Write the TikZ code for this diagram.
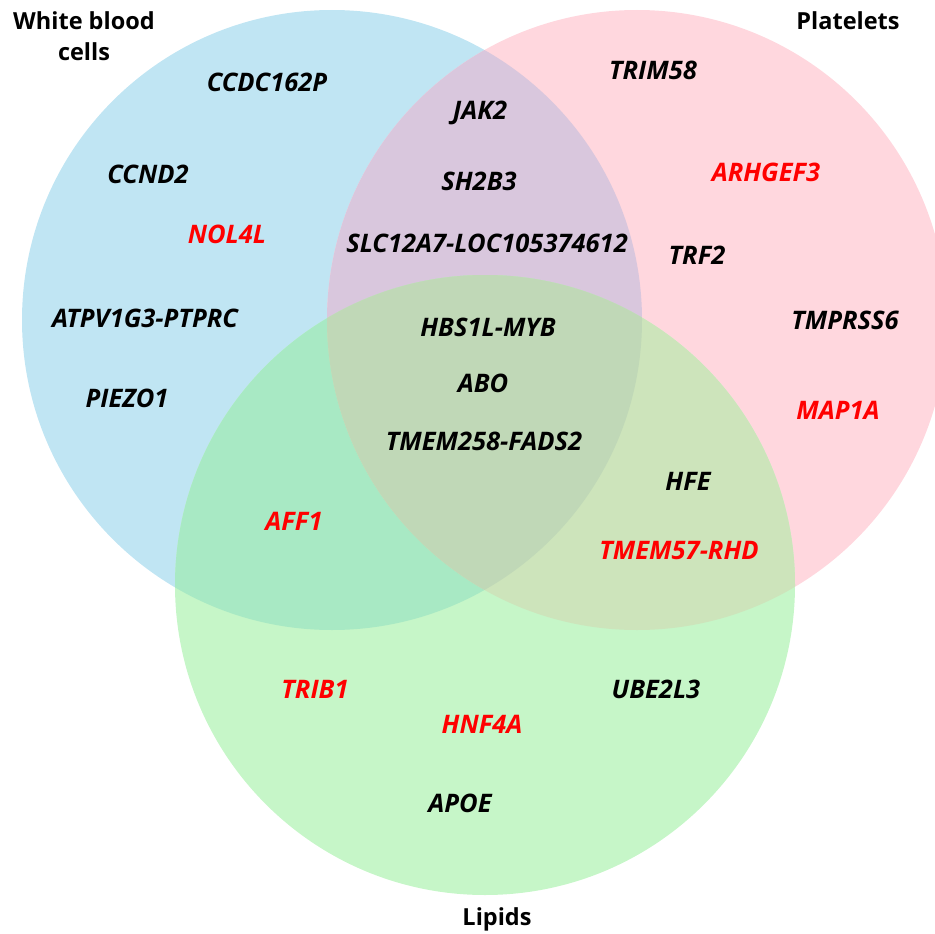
\documentclass[tikz,border=0pt]{standalone}
\usepackage{fontspec}
\setmainfont{Open Sans}
\definecolor{wbc}{RGB}{192,229,243}
\definecolor{plt}{RGB}{255,215,222}
\definecolor{lip}{RGB}{198,246,200}
\definecolor{wbcplt}{RGB}{217,199,221}
\definecolor{wbclip}{RGB}{168,233,196}
\definecolor{pltlip}{RGB}{205,228,187}
\definecolor{allthree}{RGB}{192,216,183}
\definecolor{hit}{RGB}{255,0,0}
\tikzset{
  gene/.style={font=\fontsize{25.5}{28}\selectfont\bfseries\itshape, text=black, inner sep=0pt},
  newgene/.style={gene, text=hit},
  setname/.style={font=\fontsize{23.5}{31}\selectfont\bfseries, align=center, inner sep=0pt},
}
\begin{document}
\begin{tikzpicture}[x=1pt,y=-1pt]
\useasboundingbox (0,0) rectangle (935,934);
\clip (0,0) rectangle (935,934);
\coordinate (cW) at (332,320);
\coordinate (cP) at (637,320);
\coordinate (cL) at (485,585);
\def\rr{310pt}
% single sets
\fill[wbc] (cW) circle[radius=\rr];
\fill[plt] (cP) circle[radius=\rr];
\fill[lip] (cL) circle[radius=\rr];
% pairwise overlaps
\begin{scope}
  \clip (cW) circle[radius=\rr];
  \fill[wbcplt] (cP) circle[radius=\rr];
  \fill[wbclip] (cL) circle[radius=\rr];
\end{scope}
\begin{scope}
  \clip (cP) circle[radius=\rr];
  \fill[pltlip] (cL) circle[radius=\rr];
\end{scope}
% triple overlap
\begin{scope}
  \clip (cW) circle[radius=\rr];
  \clip (cP) circle[radius=\rr];
  \fill[allthree] (cL) circle[radius=\rr];
\end{scope}
% set names
\node[setname] (tW) at (84,36) {White blood\\cells};
\node[setname] (tP) at (848,21) {Platelets};
\node[setname] (tL) at (497,919) {Lipids};
% white blood cells only
\node[gene] (g1) at (267,82) {CCDC162P};
\node[gene] (g2) at (148,174) {CCND2};
\node[newgene] (g3) at (227,234) {NOL4L};
\node[gene] (g4) at (145,318) {ATPV1G3-PTPRC};
\node[gene] (g5) at (127,398) {PIEZO1};
% white blood cells and platelets
\node[gene] (g6) at (480,113) {JAK2};
\node[gene] (g7) at (479,181) {SH2B3};
\node[gene] (g8) at (487,243) {SLC12A7-LOC105374612};
% platelets only
\node[gene] (g9) at (653,70) {TRIM58};
\node[newgene] (g10) at (766,172) {ARHGEF3};
\node[gene] (g11) at (697,255) {TRF2};
\node[gene] (g12) at (845,320) {TMPRSS6};
\node[newgene] (g13) at (838,410) {MAP1A};
% all three
\node[gene] (g14) at (488,327) {HBS1L-MYB};
\node[gene] (g15) at (483,383) {ABO};
\node[gene] (g16) at (484,441) {TMEM258-FADS2};
% platelets and lipids
\node[gene] (g17) at (688,481) {HFE};
\node[newgene] (g18) at (679,551) {TMEM57-RHD};
% white blood cells and lipids
\node[newgene] (g19) at (294,521) {AFF1};
% lipids only
\node[newgene] (g20) at (315,689) {TRIB1};
\node[newgene] (g21) at (482,724) {HNF4A};
\node[gene] (g22) at (656,689) {UBE2L3};
\node[gene] (g23) at (460,803) {APOE};
\end{tikzpicture}
\end{document}
